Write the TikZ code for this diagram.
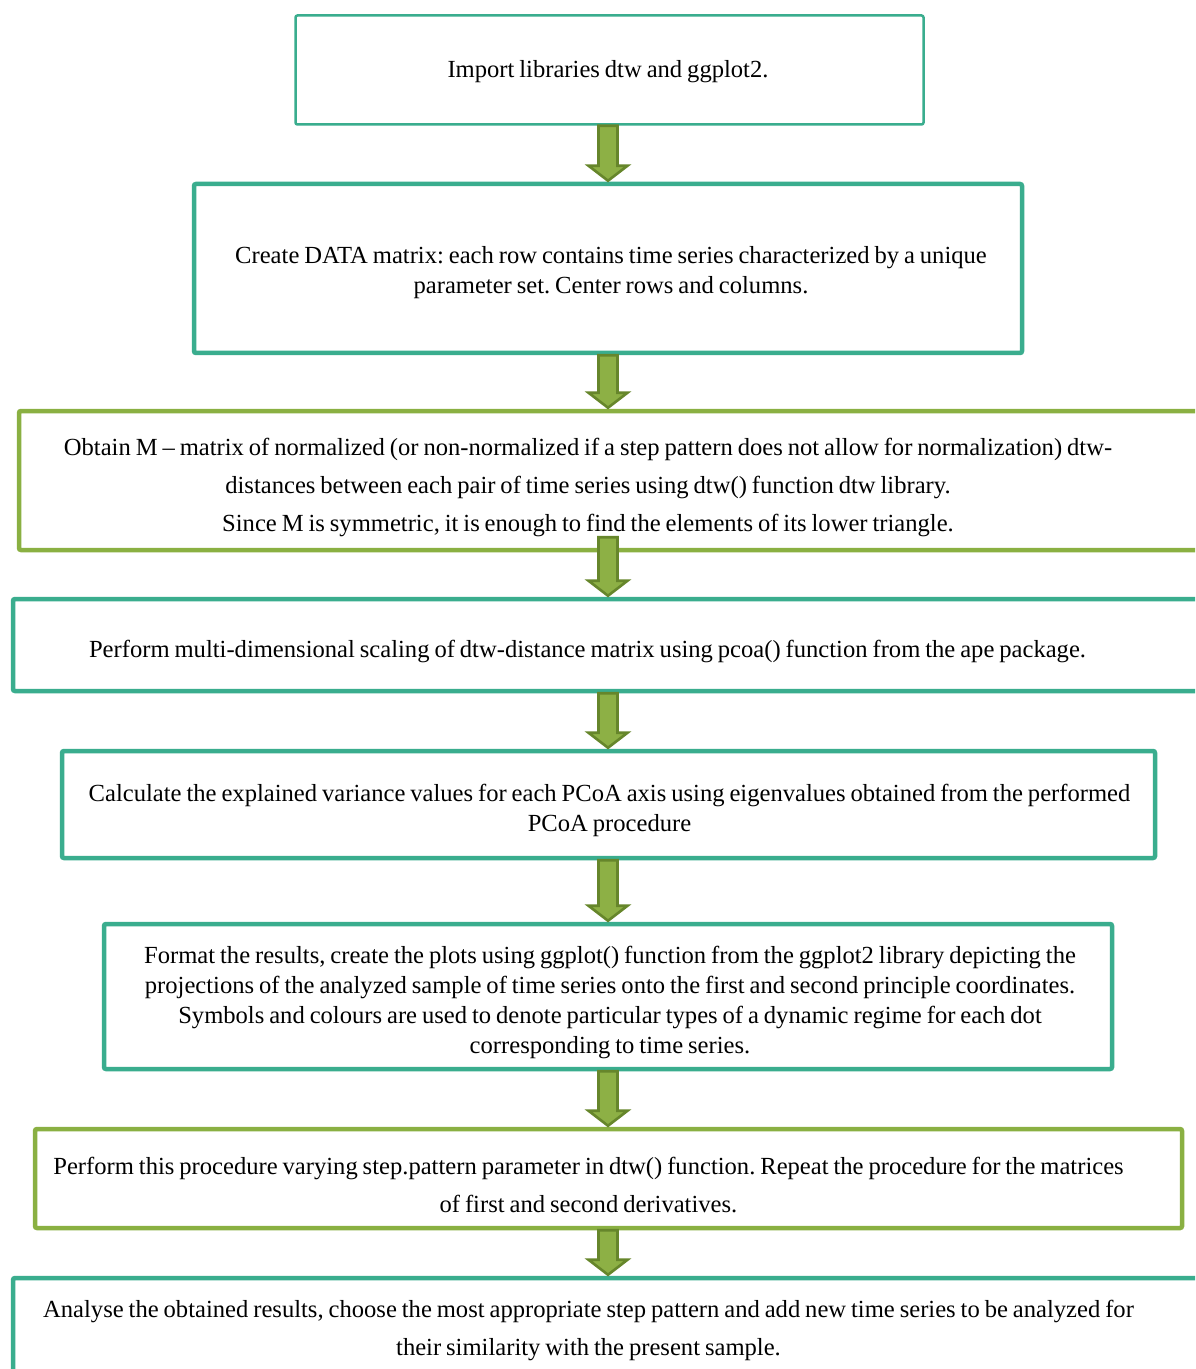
\documentclass[tikz,border=0pt]{standalone}
\usepackage{fontspec}
\setmainfont{Liberation Serif}
\usetikzlibrary{calc}
\definecolor{tealc}{HTML}{3AAD8E}
\definecolor{greenc}{HTML}{8AB042}
\definecolor{arrfill}{HTML}{8DB045}
\definecolor{arrdraw}{HTML}{66862B}
\newcommand\tightsp{\frenchspacing\spaceskip=0.2em plus 0.1em minus 0.05em\relax}
\tikzset{
  boxbase/.style={draw, fill=none, rounded corners=1pt, inner sep=0pt},
  tealbox/.style={boxbase, draw=tealc, line width=2.25pt},
  greenbox/.style={boxbase, draw=greenc, line width=2.25pt},
  sz/.style 2 args={minimum width=#1*0.5pt, minimum height=#2*0.5pt},
  txt/.style={align=center, inner sep=0pt, font=\fontsize{12.3}{15}\selectfont\tightsp},
  txtwide/.style={align=center, inner sep=0pt, font=\fontsize{12.3}{19}\selectfont\tightsp},
  flowarr/.style={fill=arrfill, draw=arrdraw, line width=1.3pt, line join=miter},
}
\newcommand\flowarrow[3]{%
  \draw[flowarr] ($(#1.south -| ax)+(-9.5,#3)$) -- ($(#2.north -| ax)+(-9.5,-16)$)
    -- ($(#2.north -| ax)+(-19.5,-16)$) -- ($(#2.north -| ax)+(0,-1)$)
    -- ($(#2.north -| ax)+(19.5,-16)$) -- ($(#2.north -| ax)+(9.5,-16)$)
    -- ($(#1.south -| ax)+(9.5,#3)$) -- cycle;}
\begin{document}
\begin{tikzpicture}[x=0.5pt,y=-0.5pt]
\useasboundingbox (0,0) rectangle (1195,1369);
\clip (0,0) rectangle (1195,1369);
\fill[white] (0,0) rectangle (1195,1369);
\coordinate (ax) at (608,0);
% boxes
\node[tealbox, line width=1.25pt, sz={628}{109}] (b1) at (609.5,70) {};
\node[tealbox, sz={828}{169}] (b2) at (608,268.5) {};
\node[greenbox, sz={1200}{139}] (b3) at (619,480.5) {};
\node[tealbox, sz={1206}{92}] (b4) at (616,645) {};
\node[tealbox, sz={1093}{107}] (b5) at (608.5,804.5) {};
\node[tealbox, sz={1008}{145}] (b6) at (608,996.5) {};
\node[greenbox, sz={1147}{99}] (b7) at (608.5,1178.5) {};
\node[tealbox, sz={1206}{160}] (b8) at (616,1358) {};
% texts
\node[txt] (t1) at (608,72) {Import libraries dtw and ggplot2.};
\node[txt] (t2) at (611,273) {Create DATA matrix: each row contains time series characterized by a unique\\parameter set. Center rows and columns.};
\node[txtwide] (t3) at (588,487) {Obtain M -- matrix of normalized (or non-normalized if a step pattern does not allow for normalization) dtw-\\distances between each pair of time series using dtw() function dtw library.\\Since M is symmetric, it is enough to find the elements of its lower triangle.};
\node[txt] (t4) at (587.5,651) {Perform multi-dimensional scaling of dtw-distance matrix using pcoa() function from the ape package.};
\node[txt] (t5) at (609.5,810) {Calculate the explained variance values for each PCoA axis using eigenvalues obtained from the performed\\PCoA procedure};
\node[txt] (t6) at (610,1002) {Format the results, create the plots using ggplot() function from the ggplot2 library depicting the\\projections of the analyzed sample of time series onto the first and second principle coordinates.\\Symbols and colours are used to denote particular types of a dynamic regime for each dot\\corresponding to time series.};
\node[txtwide] (t7) at (588.5,1185) {Perform this procedure varying step.pattern parameter in dtw() function. Repeat the procedure for the matrices\\of first and second derivatives.};
\node[txtwide] (t8) at (588.5,1330.5) {Analyse the obtained results, choose the most appropriate step pattern and add new time series to be analyzed for\\their similarity with the present sample.};
% arrows
\flowarrow{b1}{b2}{0}
\flowarrow{b2}{b3}{0}
\flowarrow{b3}{b4}{-15}
\flowarrow{b4}{b5}{0}
\flowarrow{b5}{b6}{0}
\flowarrow{b6}{b7}{0}
\flowarrow{b7}{b8}{0}
\end{tikzpicture}
\end{document}
